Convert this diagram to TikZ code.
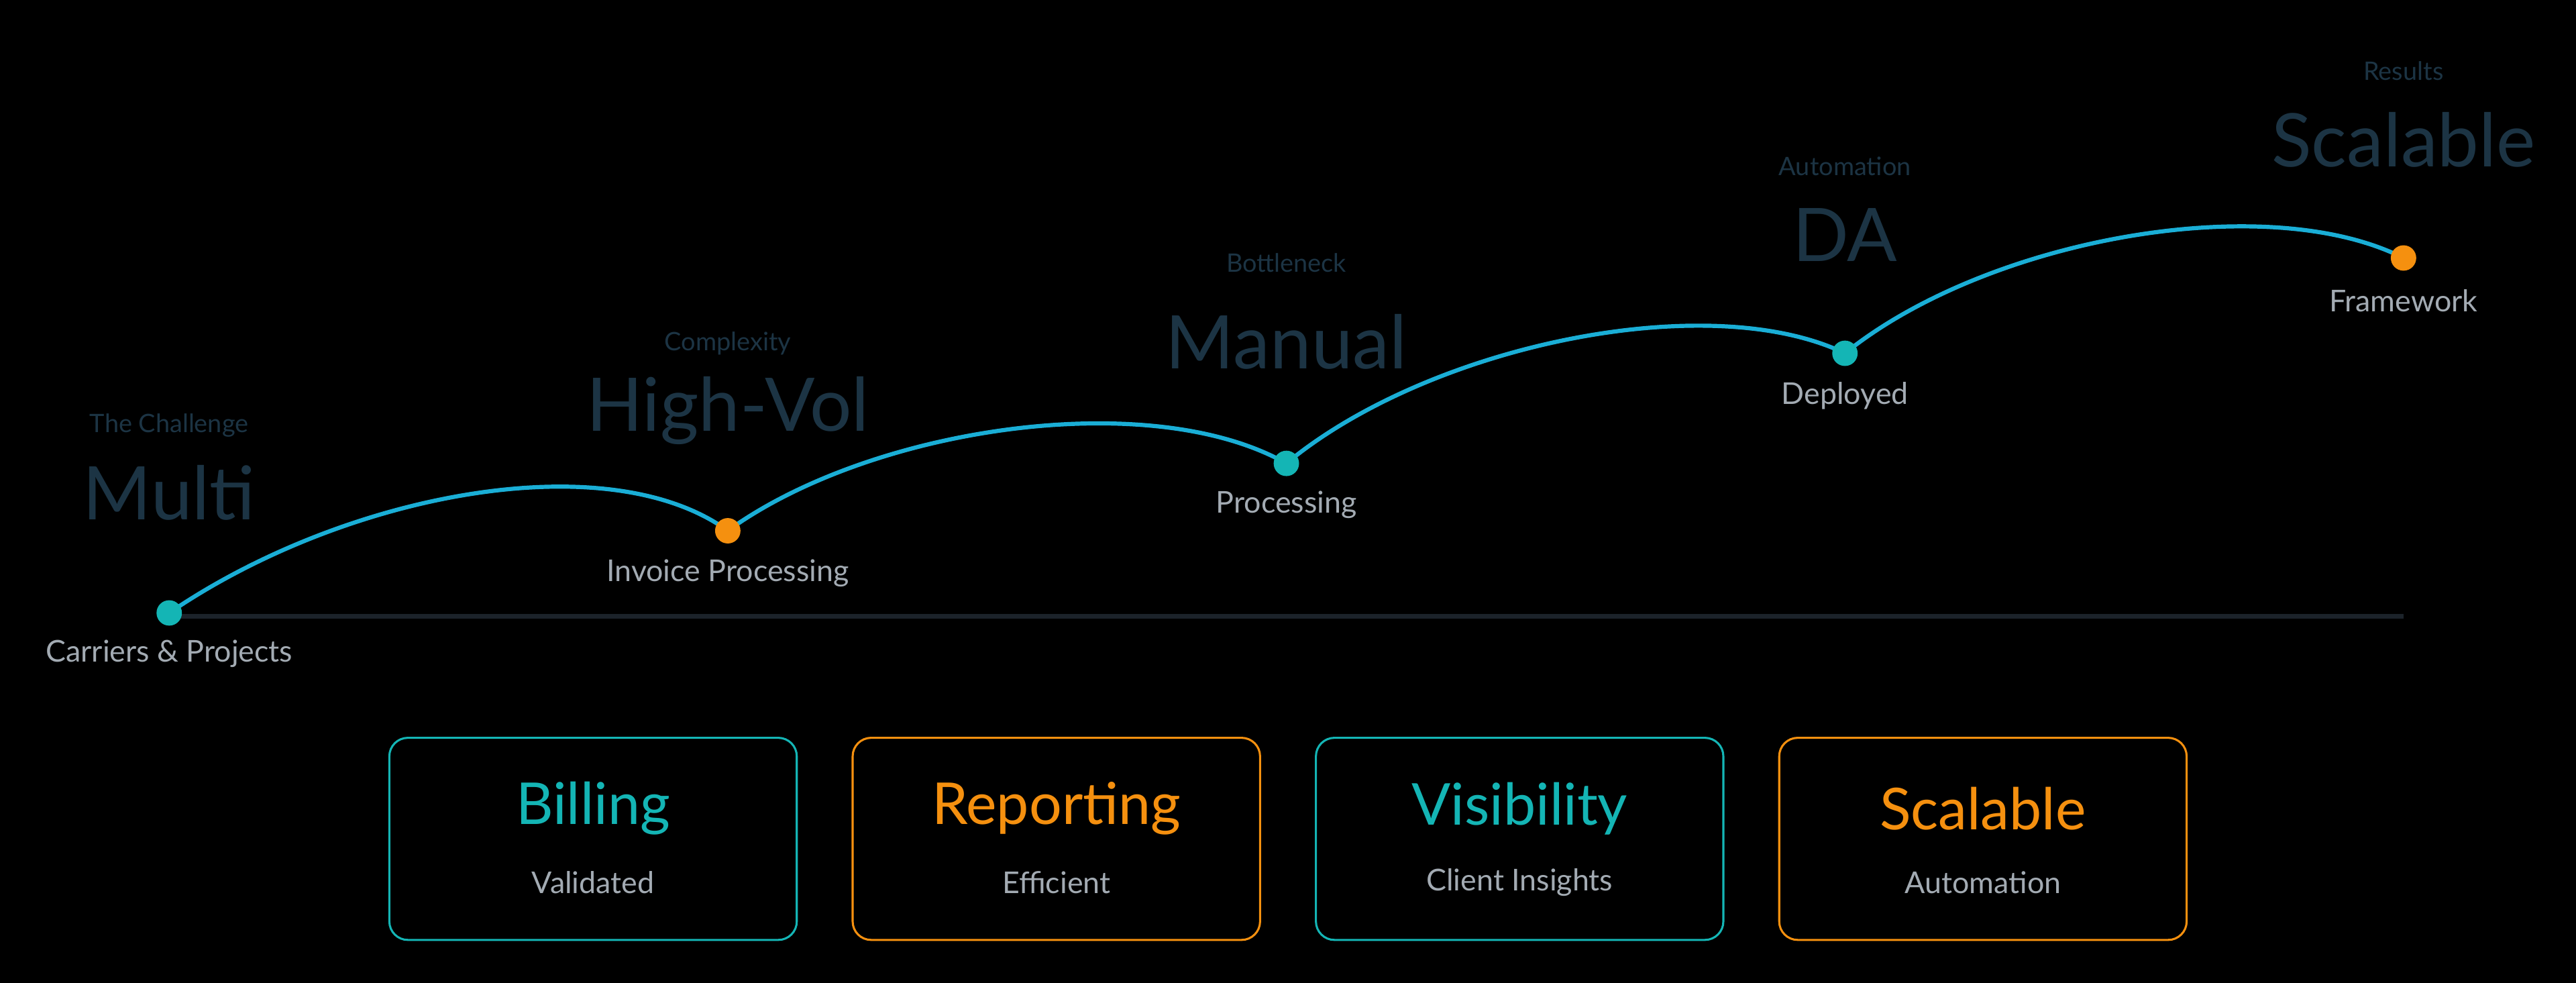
\documentclass[tikz,border=0pt]{standalone}
\usepackage{fontspec}
\setmainfont{Lato}
\begin{document}
\begin{tikzpicture}[x=0.025cm,y=-0.025cm,
  teal/.style={fill=tealc},
  small/.style={text=hdr,font=\fontsize{11}{13}\selectfont},
  big/.style={text=hdr,font=\fontsize{32}{36}\selectfont},
  lab/.style={text=labc,font=\fontsize{13}{15}\selectfont},
  dot/.style={circle,inner sep=0pt,minimum size=11pt},
  card/.style={draw,rounded corners=8pt,line width=0.9pt,minimum width=248\pgflinewidth,inner sep=0pt},
  ttl/.style={font=\fontsize{25}{28}\selectfont},
  sub/.style={text=labc,font=\fontsize{13}{15}\selectfont}]
\definecolor{tealc}{HTML}{14B5B5}
\definecolor{orc}{HTML}{F5900F}
\definecolor{curvec}{HTML}{1AAED6}
\definecolor{hdr}{HTML}{1C3444}
\definecolor{labc}{HTML}{A3ABB3}
\definecolor{basec}{HTML}{1C232A}
\fill[black] (0,0) rectangle (1568,598.2);
\useasboundingbox (0,0) rectangle (1568,598.2);
% baseline
\coordinate (bs) at (103,375);
\coordinate (be) at (1463,375);
\draw[basec,line width=2.2pt] (bs) -- (be);
% points
\coordinate (p1) at (103,373);
\coordinate (p2) at (443,323);
\coordinate (p3) at (783,282);
\coordinate (p4) at (1123,215);
\coordinate (p5) at (1463,157);
\draw[curvec,line width=1.8pt]
 (p1) .. controls (210,300) and (370,270) .. (p2)
      .. controls (530,260) and (700,235) .. (p3)
      .. controls (870,210) and (1040,175) .. (p4)
      .. controls (1210,145) and (1380,115) .. (p5);
\node[dot,fill=tealc] (d1) at (p1) {};
\node[dot,fill=orc] (d2) at (p2) {};
\node[dot,fill=tealc] (d3) at (p3) {};
\node[dot,fill=tealc] (d4) at (p4) {};
\node[dot,fill=orc] (d5) at (p5) {};
% headers
\node[small] (h1) at (103,259) {The Challenge};
\node[big] (b1) at (103,300) {Multi};
\node[small] (h2) at (443,209) {Complexity};
\node[big] (b2) at (443,250) {High-Vol};
\node[small] (h3) at (783,160) {Bottleneck};
\node[big] (b3) at (783,208) {Manual};
\node[small] (h4) at (1123,101) {Automation};
\node[big] (b4) at (1123,143) {DA};
\node[small] (h5) at (1463,43) {Results};
\node[big] (b5) at (1463,85) {Scalable};
% labels
\node[lab] (l1) at (103,398) {Carriers \& Projects};
\node[lab] (l2) at (443,349) {Invoice Processing};
\node[lab] (l3) at (783,307) {Processing};
\node[lab] (l4) at (1123,241) {Deployed};
\node[lab] (l5) at (1463,183) {Framework};
% cards
\draw[tealc,line width=0.9pt,rounded corners=8pt] (237,449) rectangle (485,572);
\draw[orc,line width=0.9pt,rounded corners=8pt] (519,449) rectangle (767,572);
\draw[tealc,line width=0.9pt,rounded corners=8pt] (801,449) rectangle (1049,572);
\draw[orc,line width=0.9pt,rounded corners=8pt] (1083,449) rectangle (1331,572);
\node[ttl,text=tealc] (c1) at (361,492) {Billing};
\node[sub] (s1) at (361,537) {Validated};
\node[ttl,text=orc] (c2) at (643,492) {Reporting};
\node[sub] (s2) at (643,537) {Efficient};
\node[ttl,text=tealc] (c3) at (925,492) {Visibility};
\node[sub] (s3) at (925,537) {Client Insights};
\node[ttl,text=orc] (c4) at (1207,492) {Scalable};
\node[sub] (s4) at (1207,537) {Automation};
\end{tikzpicture}
\end{document}
